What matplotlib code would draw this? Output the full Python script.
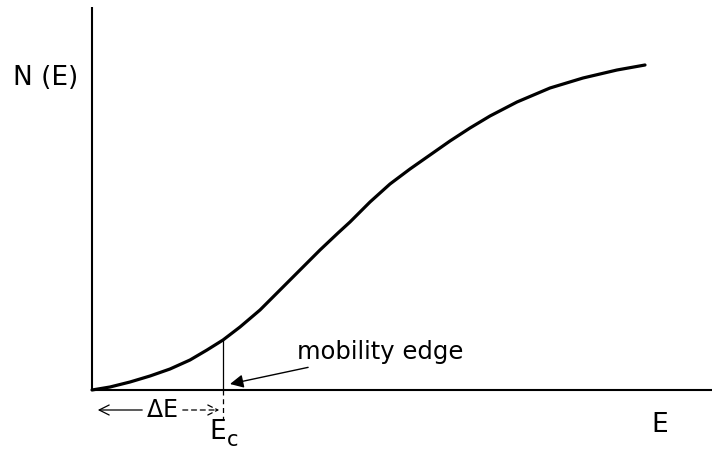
import matplotlib.pyplot as plt

# density of states N(E) (arbitrary units)
energy = [0, 18, 38, 58, 78, 98, 115, 131, 148, 168, 188, 208, 228, 246,
          258, 278, 298, 318, 338, 358, 378, 398, 425, 458, 491, 525, 553]
density = [0, 3, 8, 14, 21, 30, 40, 50, 63, 80, 100, 120, 140, 157,
           168, 188, 206, 221, 235, 249, 262, 274, 288, 302, 312, 320, 325]

# mobility edge position on the curve
e_c = 131
n_c = 50

fig = plt.figure(figsize=(7.12, 4.5), dpi=100)
ax = fig.add_axes([0, 0, 1, 1])
ax.set_xlim(-92, 620)
ax.set_ylim(-60, 390)
ax.axis('off')

# axes drawn by hand
ax.plot([0, 0], [0, 383], color='black', lw=1.5, solid_capstyle='butt')
ax.plot([0, 620], [0, 0], color='black', lw=1.5, solid_capstyle='butt')

# N(E) curve
ax.plot(energy, density, color='black', lw=2.3, solid_capstyle='round',
        solid_joinstyle='round')

# vertical marker at Ec
ax.plot([e_c, e_c], [0, n_c], color='black', lw=0.9)
ax.plot([e_c, e_c], [0, -30], color='black', lw=0.9, ls=(0, (4, 3)))

# delta E arrows
ax.annotate('', xy=(3, -20), xytext=(53, -20),
            arrowprops=dict(arrowstyle='->', color='black', lw=0.9,
                            mutation_scale=18))
ax.annotate('', xy=(e_c - 1, -20), xytext=(88, -20),
            arrowprops=dict(arrowstyle='->', color='black', lw=0.9,
                            ls=(0, (4, 3)), mutation_scale=18))
ax.text(70, -20, r'$\Delta$E', fontsize=17, ha='center', va='center')

# labels
ax.text(e_c - 5, -42, 'E', fontsize=19, ha='center', va='center')
ax.text(e_c + 10, -50, 'c', fontsize=15, ha='center', va='center')
ax.text(-46, 312, 'N (E)', fontsize=19, ha='center', va='center')
ax.text(568, -35, 'E', fontsize=19, ha='center', va='center')

# mobility edge pointer
ax.annotate('mobility edge', xy=(e_c + 7, 6), xytext=(205, 38),
            fontsize=17.5, ha='left', va='center',
            arrowprops=dict(arrowstyle='-|>', color='black', lw=1.0,
                            mutation_scale=20, shrinkA=2, shrinkB=0))

fig.savefig('out.png', dpi=100)
